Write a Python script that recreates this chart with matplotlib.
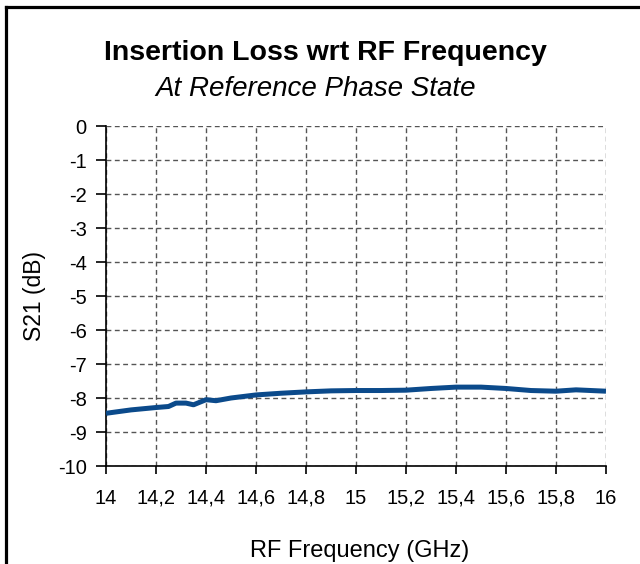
import numpy as np
import matplotlib
matplotlib.use("Agg")
import matplotlib.pyplot as plt
from matplotlib.lines import Line2D
from matplotlib.ticker import FuncFormatter

# Insertion loss
freq = [14.0, 14.1, 14.2, 14.25, 14.28, 14.32, 14.35, 14.4, 14.44, 14.5,
        14.6, 14.7, 14.8, 14.9, 15.0, 15.1, 15.2, 15.3, 15.4, 15.5,
        15.6, 15.7, 15.8, 15.88, 16.0]
s21 = [-8.45, -8.35, -8.28, -8.25, -8.15, -8.15, -8.2, -8.05, -8.08, -8.0,
       -7.91, -7.86, -7.82, -7.79, -7.78, -7.78, -7.77, -7.72, -7.68, -7.68,
       -7.72, -7.78, -7.8, -7.76, -7.8]

x_ticks = [14.0, 14.2, 14.4, 14.6, 14.8, 15.0, 15.2, 15.4, 15.6, 15.8, 16.0]
y_ticks = list(range(-10, 1))

plt.rcParams['font.family'] = ['Liberation Sans', 'DejaVu Sans']
plt.rcParams['axes.unicode_minus'] = False

W, H = 640, 564
fig = plt.figure(figsize=(W / 100, H / 100), dpi=100)
ax = fig.add_axes([106 / W, (H - 466) / H, 500 / W, 340 / H])

ax.plot(freq, s21, color='#0B4A8B', lw=3.6, solid_capstyle='butt', zorder=3)

ax.set_xlim(14, 16)
ax.set_ylim(-10, 0)
ax.set_xticks(x_ticks)
ax.set_yticks(y_ticks)

def comma(v, pos):
    s = ('%.1f' % v).rstrip('0').rstrip('.')
    return s.replace('.', ',')

ax.xaxis.set_major_formatter(FuncFormatter(comma))
ax.grid(True, color='#555555', ls=(0, (3.5, 2.5)), lw=1.0)
for s in ['top', 'right']:
    ax.spines[s].set_visible(False)
for s in ['left', 'bottom']:
    ax.spines[s].set_color('black')
    ax.spines[s].set_linewidth(1.2)
ax.tick_params(axis='y', direction='out', length=7, width=1.2, pad=7, labelsize=14.5)
ax.tick_params(axis='x', direction='out', length=6, width=1.2, pad=21, labelsize=14.5)
# keep "14" and "14,2" on the same baseline
plt.setp(ax.get_xticklabels(), va='baseline')

fig.text(325 / W, 1 - 60 / H, 'Insertion Loss wrt RF Frequency', ha='center', va='baseline',
         fontsize=20.5, fontweight='bold')
fig.text(316 / W, 1 - 96 / H, 'At Reference Phase State', ha='center', va='baseline',
         fontsize=20, style='italic')
fig.text(250 / W, 1 - 557 / H, 'RF Frequency (GHz)', ha='left', va='baseline', fontsize=17)
fig.text(34 / W, 1 - 296 / H, 'S21 (dB)', ha='center', va='center', rotation=90, fontsize=16.5)

# outer frame (left and top edges visible)
fig.add_artist(Line2D([5.5 / W, 5.5 / W], [0, 1 - 6.5 / H], color='black', lw=2.3,
                      transform=fig.transFigure, solid_capstyle='projecting'))
fig.add_artist(Line2D([5.5 / W, 1], [1 - 6.5 / H, 1 - 6.5 / H], color='black', lw=2.3,
                      transform=fig.transFigure, solid_capstyle='projecting'))

fig.savefig('out.png', dpi=100)
